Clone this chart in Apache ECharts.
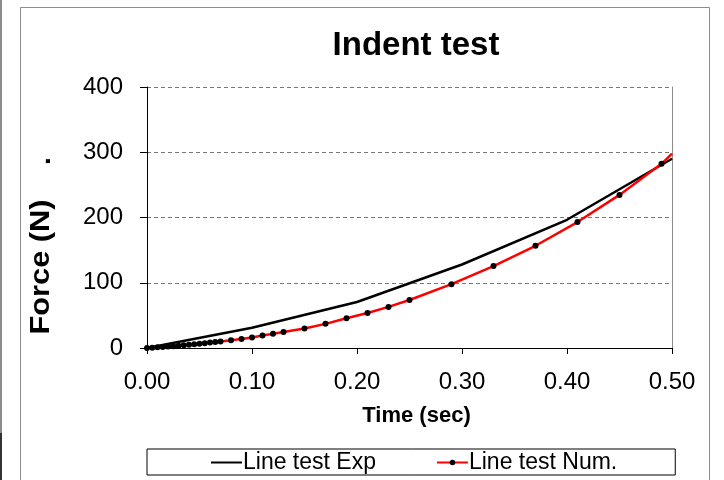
<!DOCTYPE html>
<html>
<head>
<meta charset="utf-8">
<script src="https://cdn.jsdelivr.net/npm/echarts@6/dist/echarts.min.js"></script>
<style>
html,body{margin:0;padding:0;background:#fff;}
#chart{width:724px;height:480px;}
</style>
</head>
<body>
<div id="chart"></div>
<script>
// ---- data ----
const seriesNames = ['Line test Exp', 'Line test Num.'];
const timeExp = [0, 0.1, 0.2, 0.3, 0.4, 0.5];
const forceExp = [0, 31, 70.5, 128, 196.5, 290];
const timeNum = [0, 0.005, 0.01, 0.015, 0.02, 0.025, 0.03, 0.035, 0.04, 0.045, 0.05, 0.055, 0.06, 0.065, 0.07,
  0.08, 0.09, 0.10, 0.11, 0.12, 0.13, 0.15, 0.17, 0.19, 0.21, 0.23, 0.25, 0.29, 0.33, 0.37, 0.41, 0.45, 0.49, 0.50];
const forceNum = [0, 0.5, 1, 1.5, 2.2, 2.8, 3.5, 4.2, 5, 5.8, 6.6, 7.4, 8.3, 9.2, 10.1,
  11.8, 13.9, 16.2, 19, 21.8, 24.4, 30, 37, 45.5, 53.6, 63, 73.5, 97.8, 125.5, 156.7, 193, 234.6, 282.2, 298];
const xTickDecimals = 2;
const titleText = 'Indent test';
const xName = 'Time (sec)';
const yName = 'Force (N)';

const expData = timeExp.map((t, i) => [t, forceExp[i]]);
const numData = timeNum.map((t, i) => {
  const item = { value: [t, forceNum[i]] };
  if (i === timeNum.length - 1) item.symbol = 'none';
  return item;
});

const FONT = 'Liberation Sans, Arial, sans-serif';
const chart = echarts.init(document.getElementById('chart'), null, { renderer: 'canvas' });
chart.setOption({
  animation: false,
  backgroundColor: '#fff',
  textStyle: { fontFamily: FONT },
  grid: { left: 147, right: 52, top: 87, bottom: 132, containLabel: false },
  legend: {
    data: [
      { name: seriesNames[0], itemStyle: { opacity: 0 } },
      { name: seriesNames[1] }
    ],
    left: 147, top: 449,
    orient: 'horizontal',
    borderColor: '#000', borderWidth: 1,
    padding: [2, 58, 1, 63],
    itemGap: 60,
    itemWidth: 31, itemHeight: 7,
    textStyle: { fontFamily: FONT, fontSize: 23, color: '#000', padding: [0, 0, 0, -4] }
  },
  xAxis: {
    type: 'value', min: 0, max: 0.5, interval: 0.1,
    axisLine: { show: true, onZero: false, lineStyle: { color: '#000', width: 1 } },
    axisTick: { show: true, inside: false, length: 6, lineStyle: { color: '#000' } },
    axisLabel: { fontSize: 24, color: '#000', margin: 22, fontFamily: FONT,
      formatter: v => v.toFixed(xTickDecimals) },
    splitLine: { show: false },
    name: xName, nameLocation: 'middle', nameGap: 57,
    nameTextStyle: { fontSize: 22, fontWeight: 'bold', color: '#000', fontFamily: FONT,
      padding: [0, 0, 0, 14] }
  },
  yAxis: [{
    type: 'value', min: 0, max: 400, interval: 100,
    axisLine: { show: true, onZero: false, lineStyle: { color: '#000', width: 1 } },
    axisTick: { show: true, inside: false, length: 7, lineStyle: { color: '#000' } },
    axisLabel: { fontSize: 24, color: '#000', margin: 24, fontFamily: FONT },
    splitLine: { show: true, lineStyle: { color: '#777', width: 1, type: [4, 3] } }
  }, {
    type: 'value', min: 0, max: 400, interval: 100, position: 'right',
    axisLine: { show: true, onZero: false, lineStyle: { color: '#8c8c8c', width: 1 } },
    axisTick: { show: false }, axisLabel: { show: false }, splitLine: { show: false }
  }],
  series: [{
    name: seriesNames[0], type: 'line', yAxisIndex: 0,
    data: expData, symbol: 'none', smooth: false,
    lineStyle: { color: '#000', width: 2.5 },
    itemStyle: { color: '#000' }
  }, {
    name: seriesNames[1], type: 'line', yAxisIndex: 0,
    data: numData, symbol: 'circle', symbolSize: 6, smooth: false,
    lineStyle: { color: '#ff0000', width: 2.5 },
    itemStyle: { color: '#000', borderWidth: 0 }
  }],
  graphic: [
    { type: 'rect', silent: true, z: -1, shape: { x: 20.5, y: 7.5, width: 689, height: 480 },
      style: { fill: 'none', stroke: '#8c8c8c', lineWidth: 1 } },
    { type: 'line', silent: true, shape: { x1: 1, y1: 0, x2: 1, y2: 480 },
      style: { stroke: '#8c8c8c', lineWidth: 2 } },
    { type: 'line', silent: true, shape: { x1: 1, y1: 433, x2: 1, y2: 480 },
      style: { stroke: '#333', lineWidth: 2 } },
    { type: 'text', silent: true, x: 416, y: 46,
      style: { text: titleText, fontFamily: FONT, fontSize: 33, fontWeight: 'bold', fill: '#000',
        textAlign: 'center', textVerticalAlign: 'middle' } },
    { type: 'text', silent: true, x: 41, y: 267, rotation: Math.PI / 2, scaleX: 1.1,
      style: { text: yName, fontFamily: FONT, fontSize: 28, fontWeight: 'bold', fill: '#000',
        textAlign: 'center', textVerticalAlign: 'middle' } },
    { type: 'text', silent: true, x: 42, y: 161, rotation: Math.PI / 2,
      style: { text: '.', fontFamily: FONT, fontSize: 28, fontWeight: 'bold', fill: '#000',
        textAlign: 'center', textVerticalAlign: 'middle' } }
  ]
});
</script>
</body>
</html>
